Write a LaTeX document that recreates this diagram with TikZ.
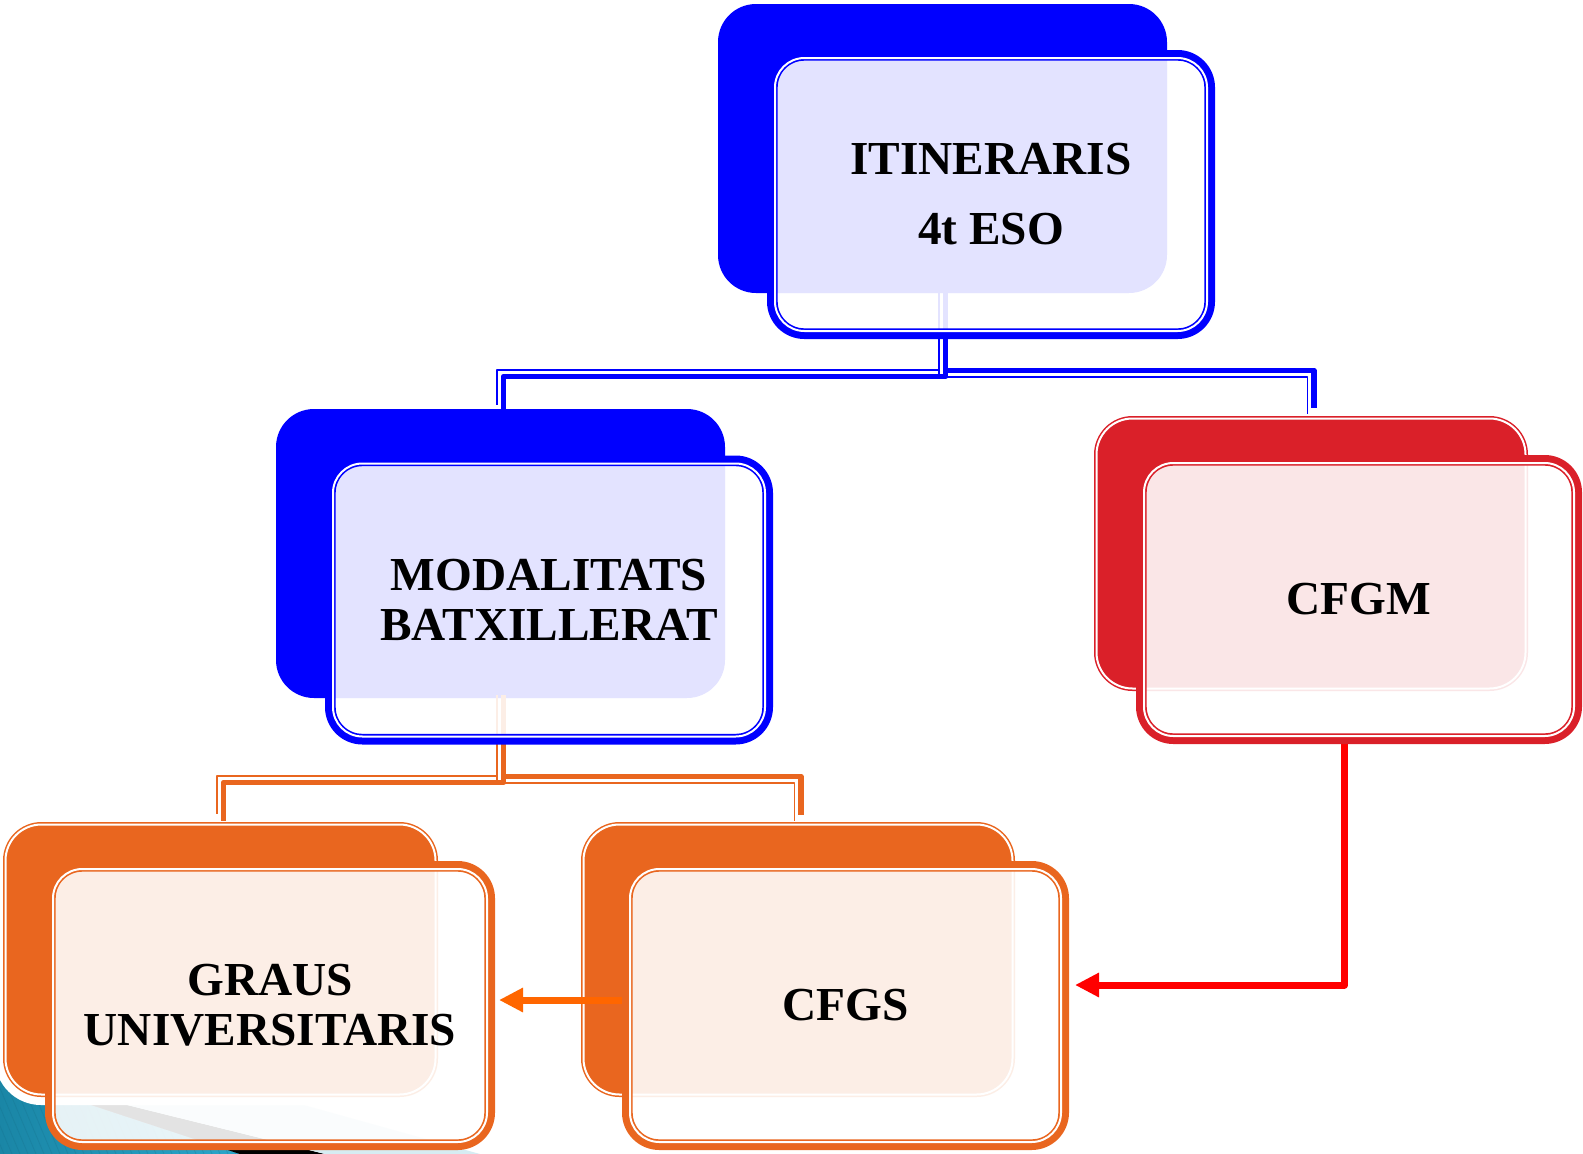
\documentclass[tikz,border=0pt]{standalone}
\usepackage{fontspec}
\setmainfont{Liberation Serif}
\usetikzlibrary{calc,arrows.meta}
\pgfdeclarelayer{bglayer}
\pgfdeclarelayer{backlayer}
\pgfdeclarelayer{connlayer}
\pgfsetlayers{bglayer,backlayer,connlayer,main}
\definecolor{cblue}{HTML}{0000FF}
\definecolor{cred}{HTML}{DA2029}
\definecolor{corange}{HTML}{E9661F}
\definecolor{arrred}{HTML}{FF0000}
\definecolor{arrorange}{HTML}{FF6600}
\definecolor{tealA}{HTML}{1A86A6}
\definecolor{tealB}{HTML}{2BA6CA}
\definecolor{lightblue}{HTML}{D6ECF2}
\begin{document}
\begin{tikzpicture}[x=1pt,y=-1pt,
  backplain/.style={rectangle, rounded corners=38pt, inner sep=0pt, outer sep=0pt, fill=#1},
  backline/.style={rectangle, rounded corners=36pt, inner sep=0pt, outer sep=0pt, fill=#1, draw=#1, line width=1.5pt, double=white, double distance=2pt},
  frontbox/.style={rectangle, rounded corners=32pt, inner sep=0pt, outer sep=0pt, draw=#1, line width=10.7pt, fill=white, fill opacity=0.89, text opacity=1, align=center, font=\fontsize{47.3}{50}\selectfont\bfseries},
  gapline/.style={draw=white, line width=2pt, rounded corners=29.4pt},
  thickconn/.style={#1, line width=5.5pt, line join=round},
  thinconn/.style={#1, line width=1.6pt, line join=round},
  arrowline/.style={#1, line width=7pt, line join=round, -{Triangle[length=24pt,width=23pt]}}
]
\useasboundingbox (0,0) rectangle (1583,1154);

% ---------- back shapes ----------
\begin{pgfonlayer}{backlayer}
\node[backplain=cblue, minimum width=449pt, minimum height=289pt] (b1) at (942.5,148.5) {};
\node[backplain=cblue, minimum width=449pt, minimum height=289pt] (b2) at (500.5,553.5) {};
\node[backline=cred, minimum width=429pt, minimum height=270pt] (b3) at (1311,553.5) {};
\node[backline=corange, minimum width=430pt, minimum height=270pt] (b4) at (220.5,959.5) {};
\node[backline=corange, minimum width=429pt, minimum height=270pt] (b5) at (798,959.5) {};
\end{pgfonlayer}

% ---------- front shapes with text ----------
\node[frontbox=cblue, minimum width=437.3pt, minimum height=278.3pt] (f1) at (991,194.5) {ITINERARIS\\[20pt]4t ESO};
\node[frontbox=cblue, minimum width=437.3pt, minimum height=278.3pt] (f2) at (549,600) {MODALITATS\\BATXILLERAT};
\node[frontbox=cred, minimum width=435.3pt, minimum height=278.3pt] (f3) at (1359,599.5) {CFGM};
\node[frontbox=corange, minimum width=439.3pt, minimum height=278.3pt] (f4) at (270,1005.5) {GRAUS\\UNIVERSITARIS};
\node[frontbox=corange, minimum width=436.3pt, minimum height=278.3pt] (f5) at (845.5,1005.5) {CFGS};
\foreach \f in {f1,f2,f3,f4,f5}{
  \draw[gapline] ($(\f.north west)+(2.65,2.65)$) rectangle ($(\f.south east)-(2.65,2.65)$);
}

% ---------- connectors ----------
\coordinate (busA) at (0,373.5);
\coordinate (busB) at (0,779.5);
\begin{pgfonlayer}{connlayer}
% blue, to MODALITATS
\draw[thickconn=cblue, transform canvas={xshift=3pt,yshift=-3pt}] (b1.south) -- (b1.south |- busA) -| ($(b2.north)+(0,-1)$);
\draw[thinconn=cblue, transform canvas={xshift=-3.5pt,yshift=3.5pt}] (b1.south) -- (b1.south |- busA) -| ($(b2.north)+(0,-1)$);
% blue, to CFGM
\draw[thickconn=cblue, transform canvas={xshift=3pt,yshift=3pt}] (b1.south) -- (b1.south |- busA) -| ($(b3.north)+(0,-8)$);
\draw[thinconn=cblue, transform canvas={xshift=-3.5pt,yshift=-3.5pt}] (b1.south) -- (b1.south |- busA) -| ($(b3.north)+(0,-8)$);
% orange, to GRAUS
\draw[thickconn=corange, transform canvas={xshift=3pt,yshift=-3pt}] (b2.south) -- (b2.south |- busB) -| ($(b4.north)+(0,-7)$);
\draw[thinconn=corange, transform canvas={xshift=-3.5pt,yshift=3.5pt}] (b2.south) -- (b2.south |- busB) -| ($(b4.north)+(0,-7)$);
% orange, to CFGS
\draw[thickconn=corange, transform canvas={xshift=3pt,yshift=3pt}] (b2.south) -- (b2.south |- busB) -| ($(b5.north)+(0,-7)$);
\draw[thinconn=corange, transform canvas={xshift=-3.5pt,yshift=-3.5pt}] (b2.south) -- (b2.south |- busB) -| ($(b5.north)+(0,-7)$);
% arrows
\draw[arrowline=arrorange] ($(f5.west)+(0,-5.5)$) -- ($(f4.east)+(9.35,-5.5)$);
\draw[arrowline=arrred] ($(f3.south)+(-14.5,0)$) |- ($(f5.east)+(11.35,-20.5)$);
\end{pgfonlayer}

% ---------- slide background decoration ----------
\begin{pgfonlayer}{bglayer}
\fill[left color=tealA, right color=tealB] (0,1000) -- (45,1000) -- (45,1104) -- (88,1104) -- (240,1154) -- (0,1154) -- cycle;
\begin{scope}
  \clip (0,1000) -- (45,1000) -- (45,1104) -- (88,1104) -- (240,1154) -- (0,1154) -- cycle;
  \foreach \i in {-60,-52,...,240}{
    \draw[tealA!80!black, opacity=0.25, line width=0.8pt] (\i,1060) -- (\i+40,1154);
  }
\end{scope}
\fill[black] (88,1104) -- (123,1104) -- (325,1154) -- (240,1154) -- cycle;
\fill[lightblue] (123,1104) -- (300,1104) -- (480,1154) -- (325,1154) -- cycle;
\fill[white, rounded corners=46pt] ($(b4.north west)+(-10.5,-10.5)$) rectangle ($(b4.south east)+(10.5,10.5)$);
\end{pgfonlayer}
\end{tikzpicture}
\end{document}
